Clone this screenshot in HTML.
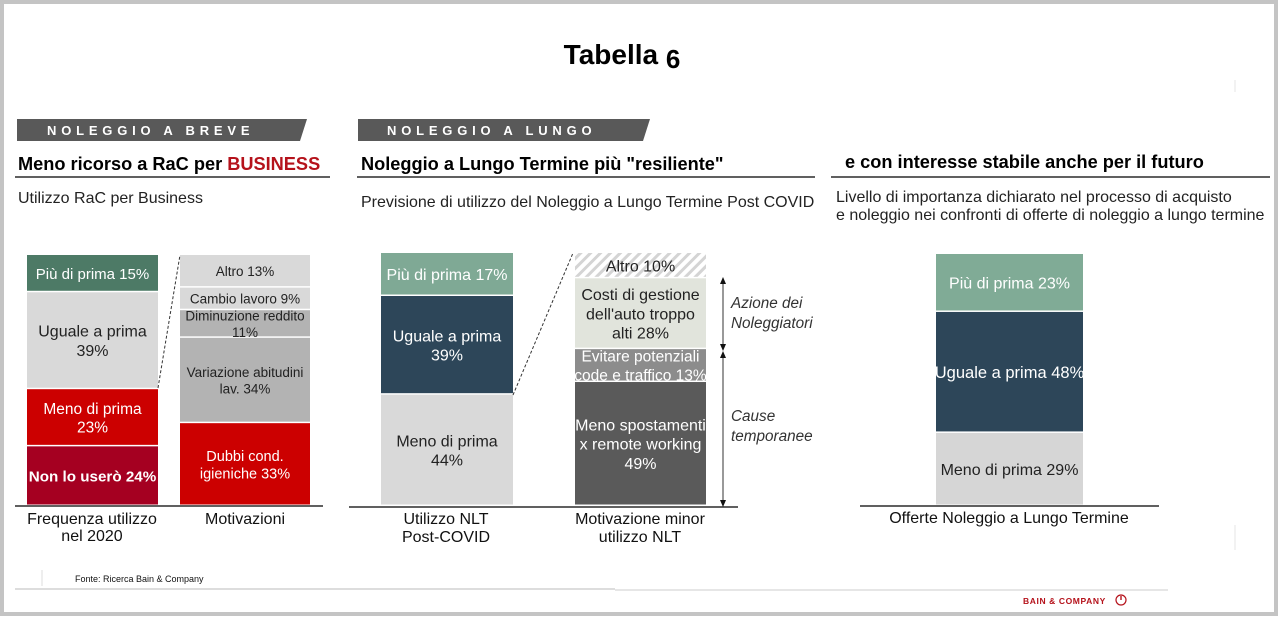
<!DOCTYPE html>
<html><head><meta charset="utf-8">
<style>
html,body{margin:0;padding:0;background:#fff;}
body{width:1280px;height:618px;overflow:hidden;font-family:"Liberation Sans",Arial,sans-serif;}
svg{display:block}
</style></head>
<body>
<svg id="chart" width="1280" height="618" viewBox="0 0 1280 618" xmlns="http://www.w3.org/2000/svg" font-family="Liberation Sans, Arial, sans-serif">
<defs>
<pattern id="hatch" width="7" height="7" patternUnits="userSpaceOnUse" patternTransform="rotate(45)">
<rect width="7" height="7" fill="#fff"/>
<rect width="3" height="7" fill="#d4d4d4"/>
</pattern>
</defs>
<rect x="2" y="2" width="1274" height="612" fill="#fff" stroke="#c4c4c4" stroke-width="4"/>
<text x="622" y="64" text-anchor="middle" font-size="28" font-weight="bold" fill="#000">Tabella <tspan font-size="26" dy="4">6</tspan></text>

<polygon points="17,119 307,119 300,141 17,141" fill="#595959"/>
<text x="47" y="135" font-size="13" font-weight="bold" fill="#fff" letter-spacing="4.8">NOLEGGIO A BREVE</text>
<polygon points="358,119 650,119 643,141 358,141" fill="#595959"/>
<text x="387" y="135" font-size="13" font-weight="bold" fill="#fff" letter-spacing="4.8">NOLEGGIO A LUNGO</text>

<text x="18" y="170" font-size="18.2" font-weight="bold" fill="#000">Meno ricorso a RaC per <tspan fill="#b5121b">BUSINESS</tspan></text>
<line x1="15" y1="177" x2="330" y2="177" stroke="#000" stroke-width="1.3"/>
<text x="18" y="203" font-size="16" fill="#222">Utilizzo RaC per Business</text>

<text x="361" y="170" font-size="18.2" font-weight="bold" fill="#000">Noleggio a Lungo Termine più "resiliente"</text>
<line x1="357" y1="177" x2="815" y2="177" stroke="#000" stroke-width="1.3"/>
<text x="361" y="207" font-size="16" fill="#222">Previsione di utilizzo del Noleggio a Lungo Termine Post COVID</text>

<text x="845" y="168" font-size="18.2" font-weight="bold" fill="#000">e con interesse stabile anche per il futuro</text>
<line x1="831" y1="177" x2="1270" y2="177" stroke="#000" stroke-width="1.3"/>
<text x="836" y="202" font-size="16" fill="#222">Livello di importanza dichiarato nel processo di acquisto</text>
<text x="836" y="220" font-size="16" fill="#222">e noleggio  nei confronti di offerte di noleggio a lungo termine</text>

<g id="bars"></g>

<line x1="15" y1="506" x2="323" y2="506" stroke="#000" stroke-width="1.3"/>
<line x1="349" y1="507" x2="738" y2="507" stroke="#000" stroke-width="1.3"/>
<line x1="860" y1="506" x2="1159" y2="506" stroke="#000" stroke-width="1.3"/>

<line x1="158" y1="388" x2="180" y2="255" stroke="#333" stroke-width="1" stroke-dasharray="3,2"/>
<line x1="513" y1="395" x2="573" y2="253" stroke="#333" stroke-width="1" stroke-dasharray="3,2"/>

<g stroke="#333" stroke-width="1" fill="#111">
<line x1="723" y1="280" x2="723" y2="348"/>
<polygon points="723,277 720,284 726,284" stroke="none"/>
<polygon points="723,351 720,344 726,344" stroke="none"/>
<line x1="723" y1="354" x2="723" y2="504"/>
<polygon points="723,351 720,358 726,358" stroke="none"/>
<polygon points="723,507 720,500 726,500" stroke="none"/>
</g>
<text x="731" y="308" font-size="15.3" font-style="italic" fill="#333">Azione dei</text>
<text x="731" y="328" font-size="15.3" font-style="italic" fill="#333">Noleggiatori</text>
<text x="731" y="421" font-size="15.3" font-style="italic" fill="#333">Cause</text>
<text x="731" y="441" font-size="15.3" font-style="italic" fill="#333">temporanee</text>

<g font-size="16" fill="#111" text-anchor="middle">
<text x="92" y="524">Frequenza utilizzo</text>
<text x="92" y="541">nel 2020</text>
<text x="245" y="524">Motivazioni</text>
<text x="446" y="524">Utilizzo NLT</text>
<text x="446" y="542">Post-COVID</text>
<text x="640" y="524">Motivazione minor</text>
<text x="640" y="542">utilizzo NLT</text>
<text x="1009" y="523">Offerte Noleggio a Lungo Termine</text>
</g>

<line x1="42" y1="570" x2="42" y2="586" stroke="#ddd" stroke-width="1"/>
<text x="75" y="582" font-size="9" fill="#111">Fonte: Ricerca Bain &amp; Company</text>
<line x1="15" y1="589" x2="615" y2="589" stroke="#bbb" stroke-width="1"/>
<line x1="615" y1="590" x2="1168" y2="590" stroke="#ccc" stroke-width="1"/>
<line x1="1235" y1="80" x2="1235" y2="92" stroke="#e6e6e6" stroke-width="1"/>
<line x1="1235" y1="525" x2="1235" y2="550" stroke="#e6e6e6" stroke-width="1"/>
<text x="1023" y="604" font-size="8.5" font-weight="bold" fill="#b5121b" letter-spacing="0.6">BAIN &amp; COMPANY</text>
<circle cx="1121" cy="600" r="5" fill="none" stroke="#b5121b" stroke-width="1.2"/>
<line x1="1121" y1="600" x2="1121" y2="596" stroke="#b5121b" stroke-width="1.4"/>
</svg>
<script>
// Chart data
const segLabelsA = [["Non lo userò 24%"],["Meno di prima","23%"],["Uguale a prima","39%"],["Più di prima 15%"]];
const valuesA = [24,23,39,15];
const colorsA = ["#a50021","#cc0000","#d9d9d9","#4d7a66"];
const textA = ["#fff","#fff","#222","#fff"];

const segLabelsB = [["Dubbi cond.","igieniche 33%"],["Variazione abitudini","lav. 34%"],["Diminuzione reddito","11%"],["Cambio lavoro 9%"],["Altro  13%"]];
const valuesB = [33,34,11,9,13];
const colorsB = ["#cc0000","#b3b3b3","#b3b3b3","#d9d9d9","#d9d9d9"];
const textB = ["#fff","#222","#222","#222","#222"];

const segLabelsC = [["Meno di prima","44%"],["Uguale a prima","39%"],["Più di prima 17%"]];
const valuesC = [44,39,17];
const colorsC = ["#d9d9d9","#2d4659","#7fa995"];
const textC = ["#222","#fff","#fff"];

const segLabelsD = [["Meno spostamenti","x remote working","49%"],["Evitare potenziali","code e traffico 13%"],["Costi di gestione","dell'auto troppo","alti 28%"],["Altro 10%"]];
const valuesD = [49,13,28,10];
const colorsD = ["#5a5a5a","#8c8c8c","#e1e4dc","url(#hatch)"];
const textD = ["#fff","#fff","#222","#222"];

const segLabelsE = [["Meno di prima 29%"],["Uguale a prima 48%"],["Più di prima 23%"]];
const valuesE = [29,48,23];
const colorsE = ["#d6d6d6","#2d4659","#80ab96"];
const textE = ["#222","#fff","#fff"];

const NS = "http://www.w3.org/2000/svg";
const g = document.getElementById("bars");

function drawBar(name, x, w, top, base, vals, cols, labs, tcols, fs, bold) {
  const total = vals.reduce((a,b)=>a+b,0);
  const scale = (base - top) / total;
  let y = base;
  vals.forEach((v,i)=>{
    const h = v*scale;
    const r = document.createElementNS(NS,"rect");
    r.setAttribute("x",x); r.setAttribute("y",y-h);
    r.setAttribute("width",w); r.setAttribute("height",Math.max(0,h-1.5));
    r.setAttribute("fill",cols[i]);
    
    
    g.appendChild(r);
    const lines = labs[i];
    const f = fs[i];
    const lh = f*1.2;
    const cy = y - h/2 - (lines.length-1)*lh/2 + f*0.35;
    lines.forEach((ln,j)=>{
      const t = document.createElementNS(NS,"text");
      t.setAttribute("x",x+w/2); t.setAttribute("y",cy+j*lh);
      t.setAttribute("text-anchor","middle");
      t.setAttribute("font-size",f);
      if(bold[i]) t.setAttribute("font-weight","bold");
      t.setAttribute("fill",tcols[i]);
      t.textContent = ln;
      
      
      g.appendChild(t);
    });
    y -= h;
  });
}
drawBar("bar-frequenza",27,131,255,506,valuesA,colorsA,segLabelsA,textA,[15.2,15.5,16,15],[true,false,false,false]);
drawBar("bar-motivazioni",180,130,255,506,valuesB,colorsB,segLabelsB,textB,[14.5,13.5,13.5,13.5,13.5],[false,false,false,false,false]);
drawBar("bar-utilizzo-nlt",381,132,253,506,valuesC,colorsC,segLabelsC,textC,[16,16,16],[false,false,false]);
drawBar("bar-motivazione-nlt",575,131,253,506,valuesD,colorsD,segLabelsD,textD,[16,15.5,16,16],[false,false,false,false]);
drawBar("bar-offerte",936,147,254,506,valuesE,colorsE,segLabelsE,textE,[16,16.5,16],[false,false,false]);
</script>
</body></html>
